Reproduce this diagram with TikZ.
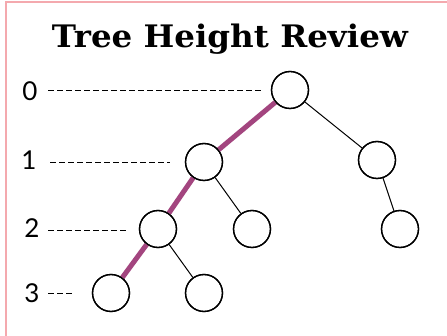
\documentclass[tikz,border=0pt]{standalone}
\usepackage{fontspec}
\usepackage{graphicx}
\setmainfont{Liberation Serif}
\newfontfamily\titlefont{DejaVu Serif}
\newfontfamily\lblfont{Lato}
\definecolor{framepink}{HTML}{F4A9AE}
\definecolor{pathpurple}{HTML}{A3457F}
\begin{document}
\begin{tikzpicture}[x=1pt,y=-1pt,
  tn/.style={circle,draw,line width=1.3pt,minimum size=37pt,inner sep=0pt,fill=white},
  lvl/.style={font=\lblfont\fontsize{26}{26}\selectfont,anchor=base},
  guide/.style={dash pattern=on 5.5pt off 3.5pt,line width=0.9pt},
  edge/.style={line width=1pt},
  hpath/.style={line width=5pt,pathpurple}]
\useasboundingbox (0,0) rectangle (447,336);
\fill[white] (0,0) rectangle (447,336);
\draw[framepink,line width=1.2pt] (6,336) coordinate (fbl) -- (6,2) coordinate (ftl) -- (447,2) coordinate (ftr);
\node[anchor=base,inner sep=0pt] (title) at (230,48) {\resizebox{356pt}{\height}{\titlefont\bfseries\fontsize{31}{31}\selectfont Tree Height Review}};
% nodes
\node[tn] (r) at (290,90) {};
\node[tn] (a) at (204,162) {};
\node[tn] (b) at (377,160) {};
\node[tn] (c) at (158,229) {};
\node[tn] (d) at (252,229) {};
\node[tn] (e) at (400,229) {};
\node[tn] (f) at (111,293) {};
\node[tn] (g) at (204,293) {};
% edges
\draw[hpath] (r) -- (a);
\draw[hpath] (a) -- (c);
\draw[hpath] (c) -- (f);
\draw[edge] (r) -- (b);
\draw[edge] (a) -- (d);
\draw[edge] (b) -- (e);
\draw[edge] (c) -- (g);
\foreach \n in {r,a,b,c,d,e,f,g} \draw[line width=1.3pt] (\n) circle (18.5pt);
% labels
\node[lvl] (l0) at (30,101) {0};
\node[lvl] (l1) at (29,170) {1};
\node[lvl] (l2) at (32,238) {2};
\node[lvl] (l3) at (32,303) {3};
\coordinate (e0) at (262,90);
\coordinate (e1) at (170,162);
\coordinate (e2) at (127,230);
\coordinate (e3) at (75,293);
\draw[guide] (48,90) -- (e0);
\draw[guide] (50,162) -- (e1);
\draw[guide] (48,230) -- (e2);
\draw[guide] (48,293) -- (e3);
\end{tikzpicture}
\end{document}
